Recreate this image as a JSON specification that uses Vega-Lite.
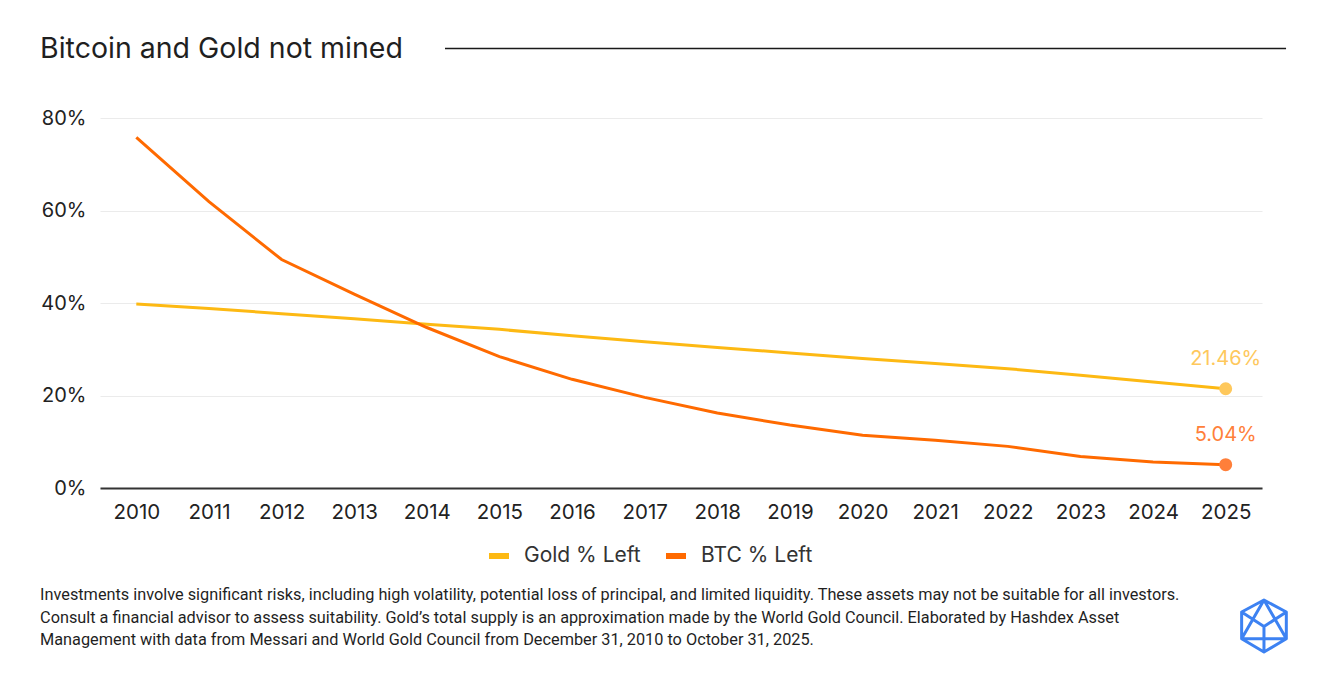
{
  "$schema": "https://vega.github.io/schema/vega-lite/v6.json",
  "background": "white",
  "padding": {"left": 40, "top": 10, "right": 10, "bottom": 10},
  "spacing": 19,
  "resolve": {"legend": {"color": "independent", "fill": "independent"}},
  "config": {"view": {"stroke": null}, "font": "Inter"},
  "vconcat": [
    {
      "width": 1162,
      "height": 79,
      "data": {"values": [{"heading": "Bitcoin and Gold not mined"}]},
      "encoding": {
        "y": {"datum": 0.025, "type": "quantitative", "scale": {"domain": [-1, 1], "nice": false, "zero": false}, "axis": null}
      },
      "layer": [
        {
          "mark": {"type": "text", "align": "left", "baseline": "middle", "fontSize": 28.5, "color": "#1f1f1f", "font": "Inter"},
          "encoding": {
            "text": {"field": "heading"},
            "x": {"datum": -0.0516, "type": "quantitative", "scale": {"domain": [0, 1], "nice": false, "zero": false}, "axis": null}
          }
        },
        {
          "mark": {"type": "rule", "color": "#1a1a1a", "strokeWidth": 1.5},
          "encoding": {
            "x": {"datum": 0.2969, "type": "quantitative"},
            "x2": {"datum": 1.0207}
          }
        }
      ]
    },
    {
      "width": 1162,
      "height": 370,
      "data": {
        "values": [
          {"year": "2010", "series": "Gold % Left", "pct": 0.398},
          {"year": "2011", "series": "Gold % Left", "pct": 0.388},
          {"year": "2012", "series": "Gold % Left", "pct": 0.377},
          {"year": "2013", "series": "Gold % Left", "pct": 0.366},
          {"year": "2014", "series": "Gold % Left", "pct": 0.354},
          {"year": "2015", "series": "Gold % Left", "pct": 0.343},
          {"year": "2016", "series": "Gold % Left", "pct": 0.329},
          {"year": "2017", "series": "Gold % Left", "pct": 0.316},
          {"year": "2018", "series": "Gold % Left", "pct": 0.304},
          {"year": "2019", "series": "Gold % Left", "pct": 0.292},
          {"year": "2020", "series": "Gold % Left", "pct": 0.280},
          {"year": "2021", "series": "Gold % Left", "pct": 0.269},
          {"year": "2022", "series": "Gold % Left", "pct": 0.258},
          {"year": "2023", "series": "Gold % Left", "pct": 0.244},
          {"year": "2024", "series": "Gold % Left", "pct": 0.229},
          {"year": "2025", "series": "Gold % Left", "pct": 0.2146},
          {"year": "2010", "series": "BTC % Left", "pct": 0.758},
          {"year": "2011", "series": "BTC % Left", "pct": 0.619},
          {"year": "2012", "series": "BTC % Left", "pct": 0.494},
          {"year": "2013", "series": "BTC % Left", "pct": 0.419},
          {"year": "2014", "series": "BTC % Left", "pct": 0.347},
          {"year": "2015", "series": "BTC % Left", "pct": 0.284},
          {"year": "2016", "series": "BTC % Left", "pct": 0.235},
          {"year": "2017", "series": "BTC % Left", "pct": 0.196},
          {"year": "2018", "series": "BTC % Left", "pct": 0.162},
          {"year": "2019", "series": "BTC % Left", "pct": 0.136},
          {"year": "2020", "series": "BTC % Left", "pct": 0.114},
          {"year": "2021", "series": "BTC % Left", "pct": 0.103},
          {"year": "2022", "series": "BTC % Left", "pct": 0.090},
          {"year": "2023", "series": "BTC % Left", "pct": 0.068},
          {"year": "2024", "series": "BTC % Left", "pct": 0.056},
          {"year": "2025", "series": "BTC % Left", "pct": 0.0504}
        ]
      },
      "encoding": {
        "x": {
          "field": "year", "type": "ordinal", "sort": null,
          "scale": {"type": "point", "padding": 0.5},
          "axis": {"title": null, "labelAngle": 0, "ticks": false, "grid": false, "domainColor": "#333333", "domainWidth": 2, "labelFontSize": 20.5, "labelColor": "#222222", "labelPadding": 14, "labelFont": "Inter"}
        },
        "y": {
          "field": "pct", "type": "quantitative",
          "scale": {"domain": [0, 0.8], "nice": false},
          "axis": {"title": null, "format": ".0%", "values": [0, 0.2, 0.4, 0.6, 0.8], "domain": false, "ticks": false, "gridColor": "#ebebeb", "gridWidth": 1, "labelFontSize": 20, "labelColor": "#222222", "labelPadding": 14, "labelFont": "Inter"}
        }
      },
      "layer": [
        {
          "mark": {"type": "line", "strokeWidth": 3},
          "encoding": {
            "color": {
              "field": "series", "type": "nominal",
              "scale": {"domain": ["Gold % Left", "BTC % Left"], "range": ["#FDB913", "#FF6A00"]},
              "legend": {"orient": "none", "legendX": 386, "legendY": 425, "direction": "horizontal", "title": null, "symbolType": "stroke", "symbolStrokeWidth": 6, "symbolSize": 400, "labelFontSize": 21, "labelColor": "#333333", "labelFont": "Inter", "columnPadding": 13, "labelOffset": 12}
            }
          }
        },
        {
          "transform": [{"filter": "datum.year == '2025'"}],
          "mark": {"type": "circle", "size": 170, "opacity": 1},
          "encoding": {
            "fill": {
              "field": "series", "type": "nominal",
              "scale": {"domain": ["Gold % Left", "BTC % Left"], "range": ["#FEC85C", "#FF7F3A"]},
              "legend": null
            }
          }
        },
        {
          "transform": [{"filter": "datum.year == '2025'"}],
          "mark": {"type": "text", "dy": -30, "fontSize": 20, "font": "Inter", "align": "center", "baseline": "middle"},
          "encoding": {
            "text": {"field": "pct", "type": "quantitative", "format": ".2%"},
            "fill": {"field": "series", "type": "nominal", "legend": null}
          }
        }
      ]
    },
    {
      "width": 1162,
      "height": 66,
      "data": {"values": [{"note": "Investments involve significant risks, including high volatility, potential loss of principal, and limited liquidity. These assets may not be suitable for all investors.\nConsult a financial advisor to assess suitability. Gold’s total supply is an approximation made by the World Gold Council. Elaborated by Hashdex Asset\nManagement with data from Messari and World Gold Council from December 31, 2010 to October 31, 2025."}]},
      "encoding": {
        "x": {"datum": -0.0516, "type": "quantitative", "scale": {"domain": [0, 1], "nice": false, "zero": false}, "axis": null},
        "y": {"datum": 1, "type": "quantitative", "scale": {"domain": [-1, 1], "nice": false, "zero": false}, "axis": null}
      },
      "layer": [
        {
          "mark": {"type": "text", "align": "left", "baseline": "middle", "lineBreak": "\n", "fontSize": 16.3, "lineHeight": 22.5, "font": "Roboto", "color": "#1f1f1f"},
          "encoding": {"text": {"field": "note"}}
        },
        {
          "mark": {"type": "point", "shape": "M0,-1L0.86,-0.54L0.86,0.49L0,1L-0.86,0.49L-0.86,-0.54Z M0,-1L-0.86,0.49 M0,-1L0.86,0.49 M-0.86,-0.54L0,0.02L0.86,-0.54 M0,0.02L0,1 M-0.86,0.49L0.86,0.49", "filled": false, "stroke": "#3D82F2", "strokeWidth": 3, "strokeJoin": "round", "size": 2700, "opacity": 1},
          "encoding": {
            "x": {"datum": 1.0017, "type": "quantitative"},
            "y": {"datum": 0.06, "type": "quantitative"}
          }
        }
      ]
    }
  ]
}
